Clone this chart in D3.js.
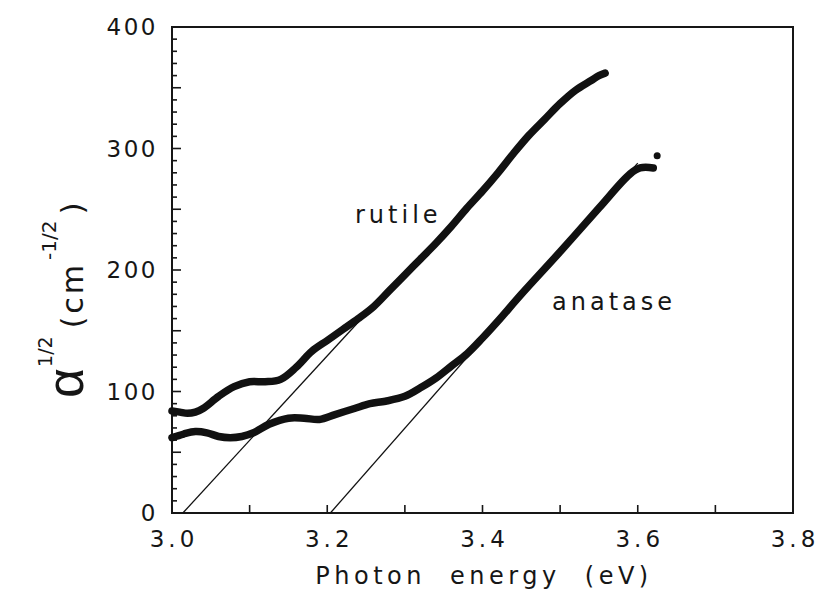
<!DOCTYPE html>
<html>
<head>
<meta charset="utf-8">
<script src="https://cdn.jsdelivr.net/npm/d3@7"></script>
<style>
  html, body { margin: 0; padding: 0; background: #fff; }
  svg { display: block; }
  text { font-family: "DejaVu Sans", "Liberation Sans", Arial, sans-serif; fill: #161616; }
</style>
</head>
<body>
<svg id="chart" width="823" height="609"></svg>
<script>
// Photon energy (eV) and sqrt(absorption coefficient) for the two TiO2 films
const rutileEnergy = [3.00, 3.01, 3.02, 3.03, 3.04, 3.06, 3.08, 3.10, 3.12, 3.14, 3.16, 3.18, 3.20, 3.22, 3.24, 3.26, 3.28, 3.30, 3.32, 3.34, 3.36, 3.38, 3.40, 3.42, 3.44, 3.46, 3.48, 3.50, 3.52, 3.54, 3.55, 3.558];
const rutileAlpha  = [84, 83, 82, 83, 86, 96, 104, 108, 108, 110, 120, 133, 142, 151, 160, 170, 183, 196, 209, 222, 236, 251, 265, 280, 296, 311, 324, 337, 348, 356, 360, 362];

const anataseEnergy = [3.00, 3.015, 3.03, 3.045, 3.06, 3.075, 3.09, 3.105, 3.125, 3.15, 3.17, 3.19, 3.21, 3.235, 3.255, 3.275, 3.30, 3.32, 3.34, 3.36, 3.38, 3.40, 3.42, 3.45, 3.50, 3.55, 3.59, 3.603, 3.62];
const anataseAlpha  = [62, 65, 67, 66, 63, 62, 63, 66, 73, 78, 78, 77, 81, 86, 90, 92, 96, 103, 111, 121, 131, 144, 158, 180, 215, 251, 279, 284, 284];

// Stray point at the high-energy end of the anatase record
const anataseStrayEnergy = [3.625];
const anataseStrayAlpha  = [294];

// Linear extrapolations to the energy axis (band-gap estimates)
const rutileFitEnergy  = [3.014, 3.27];
const rutileFitAlpha   = [0, 178];
const anataseFitEnergy = [3.204, 3.60];
const anataseFitAlpha  = [0, 288];

// Axis ticks and labels
const xTicks = [3.0, 3.1, 3.2, 3.3, 3.4, 3.5, 3.6, 3.7, 3.8];
const xTickLabels = ["3.0", "3.2", "3.4", "3.6", "3.8"];
const yTickLabels = ["0", "100", "200", "300", "400"];

const svg = d3.select("#chart");
const plotLeft = 172, plotRight = 793, plotTop = 27, plotBottom = 513;

const x = d3.scaleLinear().domain([3.0, 3.8]).range([plotLeft, plotRight]);
const y = d3.scaleLinear().domain([0, 400]).range([plotBottom, plotTop]);

// Frame
svg.append("rect")
  .attr("x", plotLeft).attr("y", plotTop)
  .attr("width", plotRight - plotLeft).attr("height", plotBottom - plotTop)
  .attr("fill", "none").attr("stroke", "#161616").attr("stroke-width", 2);

// Inward ticks on the energy axis
svg.append("g").selectAll("line").data(xTicks.slice(1, -1)).join("line")
  .attr("x1", d => x(d)).attr("x2", d => x(d))
  .attr("y1", plotBottom).attr("y2", plotBottom - 8)
  .attr("stroke", "#161616").attr("stroke-width", 1.6);

// Inward ticks on the left axis: every 10, longer every 50
svg.append("g").selectAll("line").data(d3.range(10, 400, 10)).join("line")
  .attr("x1", plotLeft).attr("x2", d => plotLeft + (d % 50 === 0 ? 9 : 5))
  .attr("y1", d => y(d)).attr("y2", d => y(d))
  .attr("stroke", "#161616").attr("stroke-width", 1.6);

// Tick labels
svg.append("g").selectAll("text").data(xTickLabels).join("text")
  .attr("x", d => x(+d) + 2).attr("y", 547)
  .attr("text-anchor", "middle")
  .style("font-size", "23px").style("letter-spacing", "4px")
  .text(d => d);

svg.append("g").selectAll("text").data(yTickLabels).join("text")
  .attr("x", 158).attr("y", d => y(+d) + 8)
  .attr("text-anchor", "end")
  .style("font-size", "23px").style("letter-spacing", "2.5px")
  .text(d => d);

// Axis titles
svg.append("text")
  .attr("x", 484).attr("y", 584)
  .attr("text-anchor", "middle")
  .style("font-size", "24px").style("letter-spacing", "4.5px").style("word-spacing", "12px")
  .text("Photon energy (eV)");

const yTitle = svg.append("text")
  .attr("transform", "translate(83,398) rotate(-90)")
  .attr("text-anchor", "start");
yTitle.append("tspan").style("font-family", "Liberation Sans").style("font-size", "52px").text("α");
yTitle.append("tspan").style("font-size", "19px").attr("dy", -31).attr("dx", 1).text("1/2");
yTitle.append("tspan").style("font-size", "30px").attr("dy", 31).attr("dx", 8)
  .style("letter-spacing", "3px").text("(cm");
yTitle.append("tspan").style("font-size", "20px").attr("dy", -27).attr("dx", 2).text("-1/2");
yTitle.append("tspan").style("font-size", "31px").attr("dy", 27).attr("dx", 6).text(")");

// Measured curves
const curve = (ex, ay) => d3.line()
  .x((d, i) => x(ex[i])).y((d, i) => y(ay[i]))
  .curve(d3.curveCatmullRom.alpha(0.5))(ex);

svg.append("path").attr("d", curve(rutileEnergy, rutileAlpha))
  .attr("fill", "none").attr("stroke", "#111").attr("stroke-width", 7.5)
  .attr("stroke-linecap", "round").attr("stroke-linejoin", "round");

svg.append("path").attr("d", curve(anataseEnergy, anataseAlpha))
  .attr("fill", "none").attr("stroke", "#111").attr("stroke-width", 7.5)
  .attr("stroke-linecap", "round").attr("stroke-linejoin", "round");

svg.append("g").selectAll("circle").data(anataseStrayEnergy).join("circle")
  .attr("cx", (d, i) => x(d)).attr("cy", (d, i) => y(anataseStrayAlpha[i]))
  .attr("r", 3.5).attr("fill", "#111");

// Extrapolation lines
const straight = (ex, ay) => d3.line().x((d, i) => x(ex[i])).y((d, i) => y(ay[i]))(ex);
svg.append("path").attr("d", straight(rutileFitEnergy, rutileFitAlpha))
  .attr("fill", "none").attr("stroke", "#111").attr("stroke-width", 1.3);
svg.append("path").attr("d", straight(anataseFitEnergy, anataseFitAlpha))
  .attr("fill", "none").attr("stroke", "#111").attr("stroke-width", 1.3);

// Series labels
svg.append("text").attr("x", 355).attr("y", 223)
  .style("font-size", "24px").style("letter-spacing", "4px").text("rutile");
svg.append("text").attr("x", 552).attr("y", 310)
  .style("font-size", "24px").style("letter-spacing", "4px").text("anatase");
</script>
</body>
</html>
